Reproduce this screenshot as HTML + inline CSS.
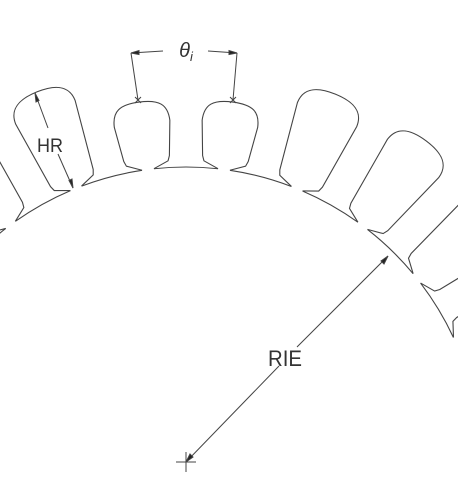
<!DOCTYPE html>
<html><head><meta charset="utf-8"><style>
html,body{margin:0;padding:0;background:#fff}
svg{display:block}
text{font-family:"Liberation Sans",sans-serif;fill:#333}
</style></head><body>
<svg width="458" height="478" viewBox="0 0 458 478">
<g id="slots" fill="none" stroke="#444" stroke-width="1.1"></g>
<g id="dims" fill="none" stroke="#444" stroke-width="1">
  <line x1="138" y1="100" x2="131" y2="53"/>
  <line x1="233" y1="100" x2="237" y2="53"/>
  <line x1="131" y1="53" x2="163" y2="51"/>
  <line x1="208" y1="51" x2="237" y2="53"/>
  <path d="M131 53 l8 -2.5 l0 4 z" fill="#222"/>
  <path d="M237 53 l-8 -2.5 l0 4 z" fill="#222"/>
  <path d="M135 97 l6 6 M141 97 l-6 6 M230 97 l6 6 M236 97 l-6 6"/>
  <line x1="35" y1="93" x2="48" y2="128"/>
  <line x1="58" y1="154" x2="73" y2="188"/>
  <path d="M35 93 l1 9 l3 -1.5 z M73 188 l-1 -9 l-3 1.5 z" fill="#222"/>
  <line x1="186" y1="462" x2="279" y2="366"/>
  <line x1="297" y1="347" x2="388" y2="256"/>
  <path d="M388 256 l-4 8 l-3 -3 z M186 462 l4 -8 l3 3 z" fill="#222"/>
  <path d="M176 462 h20 M186 452 v20"/>
</g>
<text x="186" y="57" font-family="Liberation Serif" font-style="italic" font-size="20" text-anchor="middle">θ<tspan font-size="13" dy="4">i</tspan></text>
<text x="37" y="152" font-size="19" textLength="26" lengthAdjust="spacingAndGlyphs">HR</text>
<text x="268" y="366" font-size="22" textLength="34" lengthAdjust="spacingAndGlyphs">RIE</text>
</svg>
<script>
const slotAngles = [-51.2, -36.5, -21.9, -7.4, 7.4, 22.1, 36.8, 51.5, 66.2];
const slotLengths = [104, 104, 104, 68, 68, 102, 106, 104, 104];
const CX = 186, CY = 462, R = 295;
const HALF = 6;
const g = document.getElementById('slots');
const NS = 'http://www.w3.org/2000/svg';
function slotPath(L){
  const y = v => -(R + v);
  const W = L > 80 ? 32 : 28;
  return `M${-HALF} ${y(0)} L-21 ${y(6)} L-23 ${y(11)} L${-W} ${y(L-22)} C${-W} ${y(L-6)} -20 ${y(L)} 0 ${y(L)} C20 ${y(L)} ${W} ${y(L-6)} ${W} ${y(L-22)} L23 ${y(11)} L21 ${y(6)} L${HALF} ${y(0)}`;
}
slotAngles.forEach((a, i) => {
  const grp = document.createElementNS(NS, 'g');
  grp.setAttribute('transform', `translate(${CX},${CY}) rotate(${a})`);
  const p = document.createElementNS(NS, 'path');
  p.setAttribute('d', slotPath(slotLengths[i]));
  
  
  grp.appendChild(p);
  g.appendChild(grp);
  if (i < slotAngles.length - 1) {
    const dA = HALF / R;
    const a1 = a * Math.PI / 180 + dA, a2 = slotAngles[i + 1] * Math.PI / 180 - dA;
    const x1 = CX + R * Math.sin(a1), y1 = CY - R * Math.cos(a1);
    const x2 = CX + R * Math.sin(a2), y2 = CY - R * Math.cos(a2);
    const arc = document.createElementNS(NS, 'path');
    arc.setAttribute('d', `M${x1} ${y1} A${R} ${R} 0 0 1 ${x2} ${y2}`);
    
    
    g.appendChild(arc);
  }
});
</script>
</body></html>
